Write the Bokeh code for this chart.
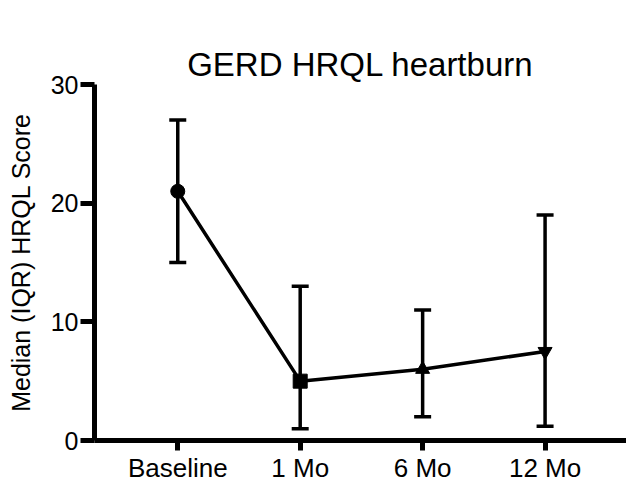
from bokeh.plotting import figure
from bokeh.models import ColumnDataSource, Range1d, FixedTicker, Whisker, TeeHead, Title
from bokeh.embed import file_html
from bokeh.resources import INLINE

categories = ["Baseline", "1 Mo", "6 Mo", "12 Mo"]
median = [21, 5, 6, 7.5]
q1 = [15, 1, 2, 1.2]
q3 = [27, 13, 11, 19]
markers = ["circle", "square", "triangle", "inverted_triangle"]
y_ticks = [0, 10, 20, 30]
title_text = "GERD HRQL heartburn"

xpos = list(range(len(categories)))
src = ColumnDataSource(dict(x=xpos, med=median, lo=q1, hi=q3, m=markers))

FONT = "Liberation Sans"

p = figure(width=626, height=486, output_backend="svg", toolbar_location=None,
           x_range=Range1d(-0.68, 3.665), y_range=Range1d(0, 30),
           min_border_left=94, min_border_right=0, min_border_top=84, min_border_bottom=46)
p.outline_line_color = None
p.xgrid.visible = False
p.ygrid.visible = False
p.background_fill_color = "white"
p.border_fill_color = "white"

# real title (outer), then an invisible spacer between it and the frame
main_title = Title(text=title_text, text_font=FONT, text_font_size="33px",
                   text_font_style="normal", text_color="black", align="center",
                   vertical_align="top", standoff=0)
p.add_layout(main_title, "above")
spacer = Title(text=" ", text_font=FONT, text_font_size="10px", text_alpha=0, standoff=24)
p.add_layout(spacer, "above")

w = Whisker(source=src, base="x", lower="lo", upper="hi", line_color="black", line_width=3.5,
            upper_head=TeeHead(size=17, line_width=3.5, line_color="black"),
            lower_head=TeeHead(size=17, line_width=3.5, line_color="black"))
p.add_layout(w)

p.line("x", "med", source=src, line_color="black", line_width=3.5)
p.scatter("x", "med", source=src, marker="m", size=14, fill_color="black", line_color="black")

for ax in (p.xaxis[0], p.yaxis[0]):
    ax.axis_line_width = 5
    ax.major_tick_line_width = 5
    ax.major_tick_in = 0
    ax.minor_tick_line_color = None
    ax.major_label_text_font = FONT
    ax.major_label_text_color = "black"
    ax.axis_line_color = "black"
    ax.major_tick_line_color = "black"

p.xaxis.ticker = FixedTicker(ticks=xpos)
p.xaxis.major_label_overrides = {i: c for i, c in zip(xpos, categories)}
p.xaxis.major_label_text_font_size = "26px"
p.xaxis.major_tick_out = 10
p.xaxis.major_label_standoff = 2

p.yaxis.ticker = FixedTicker(ticks=y_ticks)
p.yaxis.major_label_text_font_size = "25px"
p.yaxis.major_tick_out = 14
p.yaxis.major_label_standoff = 2
p.yaxis.axis_label = "Median (IQR) HRQL Score"
p.yaxis.axis_label_text_font = FONT
p.yaxis.axis_label_text_font_size = "25px"
p.yaxis.axis_label_text_font_style = "normal"
p.yaxis.axis_label_text_color = "black"
p.yaxis.axis_label_standoff = 13

open("out.html", "w").write(file_html(p, INLINE))
